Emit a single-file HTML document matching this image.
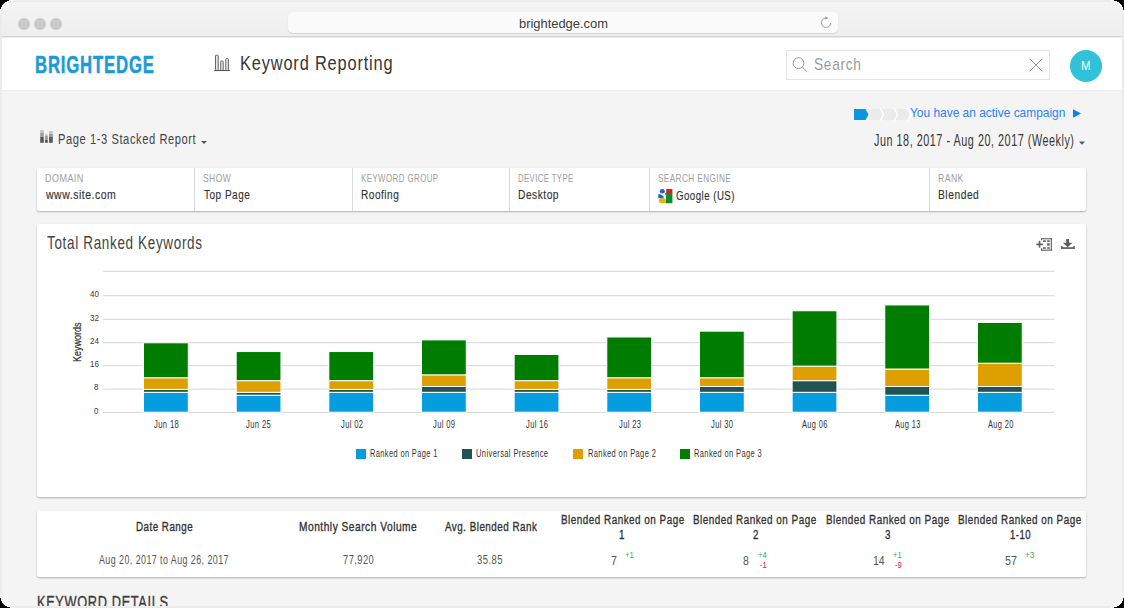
<!DOCTYPE html>
<html><head><meta charset="utf-8"><style>
html,body{margin:0;padding:0;width:1124px;height:608px;overflow:hidden;background:#000;}
body{font-family:"Liberation Sans",sans-serif;position:relative;}
.win{position:absolute;left:0;top:0;width:1124px;height:608px;background:#ebebeb;overflow:hidden;}
.t{position:absolute;white-space:nowrap;line-height:1;transform-origin:0 0;}
.a{position:absolute;}
.card{position:absolute;background:#fff;box-shadow:0 1px 2px rgba(0,0,0,0.28);border-radius:2px;}
</style></head><body>
<div class="win">
 <div class="a" style="left:2px;top:2px;width:1120px;height:34px;background:linear-gradient(#f4f4f4,#eeeeee);border-radius:10px 10px 0 0"></div>
 <div class="a" style="left:2px;top:36px;width:1120px;height:1px;background:#d5d5d5"></div>
 <div class="a" style="left:2px;top:37px;width:1120px;height:1px;background:#e9e9e9"></div>
 <div class="a" style="left:18px;top:18px;width:12px;height:12px;border-radius:50%;background:#c9c9c9"></div>
 <div class="a" style="left:34px;top:18px;width:12px;height:12px;border-radius:50%;background:#c9c9c9"></div>
 <div class="a" style="left:50px;top:18px;width:12px;height:12px;border-radius:50%;background:#c9c9c9"></div>
 <div class="a" style="left:288px;top:12px;width:550px;height:21px;border-radius:5px;background:#fbfbfb;box-shadow:0 1px 1px rgba(0,0,0,0.12)"></div>
 <div class="t" style="left:518.51px;top:16.5px;font-size:13.0px;color:#3c3c3c;transform:scaleX(0.992);">brightedge.com</div>
 <svg class="a" style="left:818px;top:15px" width="16" height="16" viewBox="0 0 16 16"><path d="M7.8 3.1 A4.6 4.6 0 1 0 12.6 8.2" fill="none" stroke="#9a9a9a" stroke-width="1"/><path d="M7.4 1.4 L10.6 3.1 L7.4 4.8 Z" fill="#9a9a9a"/></svg>
 <div class="a" style="left:2px;top:38px;width:1120px;height:52px;background:#fff"></div>
 <div class="a" style="left:2px;top:90px;width:1120px;height:516px;background:#f4f4f4"></div>
 <div class="a" style="left:2px;top:90px;width:1120px;height:1px;background:#ededed"></div>
 <div class="t" style="left:35.0px;top:52.6px;font-size:23.75px;font-weight:700;-webkit-text-stroke:0.5px #1a9bd9;color:#1a9bd9;letter-spacing:1.19px;transform:scaleX(0.703);">BRIGHTEDGE</div>
 <svg class="a" style="left:213px;top:54px" width="18" height="18" viewBox="0 0 18 18"><g fill="#e8e8e8" stroke="#666" stroke-width="1"><rect x="2.5" y="1.2" width="2.7" height="15.3" rx="0.8"/><rect x="7.7" y="7" width="2.5" height="9.5" rx="0.8"/><rect x="12.8" y="4.6" width="2.6" height="11.9" rx="0.8"/></g><path d="M1.2 16.5 H16.8" stroke="#555" stroke-width="1.1"/></svg>
 <div class="t" style="left:240.22px;top:53.0px;font-size:20.75px;color:#363636;letter-spacing:1.04px;transform:scaleX(0.7905);">Keyword Reporting</div>
 <div class="a" style="left:786px;top:50px;width:262px;height:28px;border:1px solid #e4e4e4;background:#fff"></div>
 <svg class="a" style="left:790px;top:55px" width="20" height="20" viewBox="0 0 20 20"><circle cx="8.5" cy="8.1" r="5.4" fill="none" stroke="#9a9a9a" stroke-width="1"/><path d="M12.3 12 L17 16.8" stroke="#9a9a9a" stroke-width="1"/></svg>
 <div class="t" style="left:813.59px;top:56.0px;font-size:17.0px;color:#9b9b9b;letter-spacing:0.85px;transform:scaleX(0.8089);">Search</div>
 <svg class="a" style="left:1028px;top:57px" width="16" height="16" viewBox="0 0 16 16"><path d="M1.8 1.8 L14.2 14.2 M14.2 1.8 L1.8 14.2" stroke="#979797" stroke-width="1"/></svg>
 <div class="a" style="left:1070px;top:50px;width:32px;height:32px;border-radius:50%;background:#2fc2d8"></div>
 <div class="t" style="left:1080.85px;top:60.0px;font-size:12.0px;color:#fff;transform:scaleX(0.95);">M</div>
 <svg class="a" style="left:853px;top:108px" width="60" height="13" viewBox="0 0 60 13"><rect x="12" y="1" width="44" height="11" fill="#ebebeb"/><g fill="none" stroke="#fff" stroke-width="1.3"><path d="M13.3 0 L16.8 6.5 L13.3 13"/><path d="M27 0 L30.5 6.5 L27 13"/><path d="M41 0 L44.5 6.5 L41 13"/><path d="M54.5 0 L58 6.5 L54.5 13"/></g><path d="M1 1 H12.5 L15.5 6.5 L12.5 12 H1 Z" fill="#0797dc"/></svg>
 <div class="t" style="left:909.98px;top:105.9px;font-size:13.0px;color:#2a82fb;transform:scaleX(0.9173);">You have an active campaign</div>
 <svg class="a" style="left:1072px;top:109px" width="10" height="10" viewBox="0 0 10 10"><path d="M1 0.3 L9 4.55 L1 8.8 Z" fill="#0c7ef8"/></svg>
 <div class="t" style="left:874.2px;top:132.9px;font-size:15.75px;color:#383838;letter-spacing:0.79px;transform:scaleX(0.6852);">Jun 18, 2017 - Aug 20, 2017 (Weekly)</div>
 <svg class="a" style="left:1078px;top:141px" width="8" height="5" viewBox="0 0 8 5"><path d="M1 0.5 H7 L4 3.8 Z" fill="#555"/></svg>
 <svg class="a" style="left:40px;top:130px" width="14" height="14" viewBox="0 0 14 14"><rect x="0.2" y="0" width="3.6" height="3" fill="#c4c4c4"/><rect x="0.2" y="3" width="3.6" height="4" fill="#9c9c9c"/><rect x="0.2" y="7" width="3.6" height="5.8" fill="#5a5a5a"/><rect x="5" y="4.2" width="2.8" height="1.8" fill="#c4c4c4"/><rect x="5" y="6" width="2.8" height="4" fill="#9c9c9c"/><rect x="5" y="10" width="2.8" height="2.8" fill="#5a5a5a"/><rect x="9" y="1" width="3.8" height="3" fill="#c4c4c4"/><rect x="9" y="4" width="3.8" height="3" fill="#9c9c9c"/><rect x="9" y="7" width="3.8" height="5.8" fill="#5a5a5a"/></svg>
 <div class="t" style="left:57.74px;top:131.7px;font-size:14.75px;color:#444;letter-spacing:0.74px;transform:scaleX(0.7569);">Page 1-3 Stacked Report</div>
 <svg class="a" style="left:200px;top:140px" width="8" height="5" viewBox="0 0 8 5"><path d="M1 1 H7 L4 4 Z" fill="#555"/></svg>
 <div class="card" style="left:37px;top:168px;width:1049px;height:43px"></div>
 <div class="a" style="left:194px;top:168px;width:1px;height:43px;background:#d9d9d9"></div>
 <div class="a" style="left:352px;top:168px;width:1px;height:43px;background:#d9d9d9"></div>
 <div class="a" style="left:509px;top:168px;width:1px;height:43px;background:#d9d9d9"></div>
 <div class="a" style="left:649px;top:168px;width:1px;height:43px;background:#d9d9d9"></div>
 <div class="a" style="left:929px;top:168px;width:1px;height:43px;background:#d9d9d9"></div>
 <div class="t" style="left:44.98px;top:172.8px;font-size:11.0px;color:#9e9e9e;letter-spacing:0.55px;transform:scaleX(0.82);">DOMAIN</div><div class="t" style="left:203.31px;top:172.8px;font-size:10.75px;color:#9e9e9e;letter-spacing:0.54px;transform:scaleX(0.7941);">SHOW</div><div class="t" style="left:360.86px;top:172.8px;font-size:10.75px;color:#9e9e9e;letter-spacing:0.54px;transform:scaleX(0.7388);">KEYWORD GROUP</div><div class="t" style="left:518.18px;top:172.8px;font-size:10.75px;color:#9e9e9e;letter-spacing:0.54px;transform:scaleX(0.7227);">DEVICE TYPE</div><div class="t" style="left:657.64px;top:172.8px;font-size:10.75px;color:#9e9e9e;letter-spacing:0.54px;transform:scaleX(0.7617);">SEARCH ENGINE</div><div class="t" style="left:937.79px;top:172.8px;font-size:10.75px;color:#9e9e9e;letter-spacing:0.54px;transform:scaleX(0.8067);">RANK</div>
 <div class="t" style="left:45.8px;top:189.0px;font-size:12.8px;-webkit-text-stroke:0.15px #333;color:#333;letter-spacing:0.64px;transform:scaleX(0.8188);">www.site.com</div><div class="t" style="left:204.1px;top:188.0px;font-size:13.25px;-webkit-text-stroke:0.15px #333;color:#333;letter-spacing:0.66px;transform:scaleX(0.755);">Top Page</div><div class="t" style="left:360.84px;top:188.0px;font-size:13.25px;-webkit-text-stroke:0.15px #333;color:#333;letter-spacing:0.66px;transform:scaleX(0.7604);">Roofing</div><div class="t" style="left:518.13px;top:188.0px;font-size:13.25px;-webkit-text-stroke:0.15px #333;color:#333;letter-spacing:0.66px;transform:scaleX(0.7706);">Desktop</div><div class="t" style="left:675.67px;top:188.6px;font-size:13.25px;-webkit-text-stroke:0.15px #333;color:#333;letter-spacing:0.66px;transform:scaleX(0.7291);">Google (US)</div><div class="t" style="left:937.82px;top:188.0px;font-size:13.25px;-webkit-text-stroke:0.15px #333;color:#333;letter-spacing:0.66px;transform:scaleX(0.7765);">Blended</div>
 <svg class="a" style="left:658px;top:189px" width="15" height="15" viewBox="0 0 15 15"><rect x="8.2" y="0" width="6.2" height="4.2" fill="#d9211b"/><path d="M7 4 H14.4 V14.2 H7.2 C8.4 12.2 8.4 7 7 4 Z" fill="#0b8d35"/><ellipse cx="4.3" cy="2.2" rx="2.5" ry="2.2" fill="#1c62d4"/><path d="M0.3 4.9 C2 4.9 4 5.6 5.2 7.2 L5.8 9.4 L0.3 9.3 Z" fill="#1c62d4"/><ellipse cx="4.4" cy="11.8" rx="3.7" ry="2.5" fill="#eeb300"/></svg>
 <div class="card" style="left:37px;top:224px;width:1049px;height:273px"></div>
 <div class="t" style="left:46.5px;top:233.9px;font-size:18.25px;color:#444;letter-spacing:0.91px;transform:scaleX(0.7383);">Total Ranked Keywords</div>
 <svg class="a" style="left:1035px;top:237px" width="18" height="15" viewBox="0 0 18 15"><g fill="#5c5c5c"><rect x="6" y="1.2" width="10.9" height="1.1"/><rect x="15.8" y="1.2" width="1.1" height="12.5"/><rect x="6" y="12.6" width="10.9" height="1.1"/><rect x="6" y="1.2" width="1.1" height="2"/><rect x="6" y="11.2" width="1.1" height="2.5"/><rect x="1.2" y="6.6" width="6.7" height="1.6"/><rect x="3.75" y="3.9" width="1.6" height="6.7"/></g><g fill="#727272"><rect x="8" y="3.2" width="2.9" height="1.8"/><rect x="12.1" y="3.2" width="2.7" height="1.8"/><rect x="12.1" y="6.1" width="2.7" height="2.7"/><rect x="8" y="10.1" width="2.9" height="1.8"/><rect x="12.1" y="10.1" width="2.7" height="1.8"/></g></svg>
 <svg class="a" style="left:1060px;top:238px" width="16" height="12" viewBox="0 0 16 12"><g fill="#5e5e5e"><rect x="6.2" y="1" width="2.9" height="4.5"/><path d="M2.9 4.7 H12.4 L7.65 9.3 Z"/><rect x="1.1" y="9.2" width="13.6" height="1.7"/><rect x="1.1" y="8" width="1.4" height="2.9"/><rect x="13.3" y="8" width="1.4" height="2.9"/></g></svg>
 <svg class="a" style="left:0;top:0" width="1124" height="608"><rect x="103" y="270.80" width="951.5" height="1" fill="#d8d8d8"/>
<rect x="103" y="295.20" width="951.5" height="1" fill="#d8d8d8"/>
<rect x="103" y="318.80" width="951.5" height="1" fill="#d8d8d8"/>
<rect x="103" y="342.20" width="951.5" height="1" fill="#d8d8d8"/>
<rect x="103" y="365.10" width="951.5" height="1" fill="#d8d8d8"/>
<rect x="103" y="388.60" width="951.5" height="1" fill="#d8d8d8"/>
<rect x="103" y="411.90" width="951.5" height="1" fill="#d8d8d8"/>
<rect x="143.50" y="392.31" width="44.8" height="19.89" fill="#059ddd" stroke="#fff" stroke-width="1"/>
<rect x="143.50" y="389.40" width="44.8" height="2.91" fill="#215353" stroke="#fff" stroke-width="1"/>
<rect x="143.50" y="377.75" width="44.8" height="11.65" fill="#dda000" stroke="#fff" stroke-width="1"/>
<rect x="143.50" y="342.80" width="44.8" height="34.95" fill="#007c00" stroke="#fff" stroke-width="1"/>
<rect x="236.16" y="395.22" width="44.8" height="16.98" fill="#059ddd" stroke="#fff" stroke-width="1"/>
<rect x="236.16" y="392.31" width="44.8" height="2.91" fill="#215353" stroke="#fff" stroke-width="1"/>
<rect x="236.16" y="380.66" width="44.8" height="11.65" fill="#dda000" stroke="#fff" stroke-width="1"/>
<rect x="236.16" y="351.54" width="44.8" height="29.12" fill="#007c00" stroke="#fff" stroke-width="1"/>
<rect x="328.82" y="392.31" width="44.8" height="19.89" fill="#059ddd" stroke="#fff" stroke-width="1"/>
<rect x="328.82" y="389.40" width="44.8" height="2.91" fill="#215353" stroke="#fff" stroke-width="1"/>
<rect x="328.82" y="380.66" width="44.8" height="8.74" fill="#dda000" stroke="#fff" stroke-width="1"/>
<rect x="328.82" y="351.54" width="44.8" height="29.12" fill="#007c00" stroke="#fff" stroke-width="1"/>
<rect x="421.48" y="392.31" width="44.8" height="19.89" fill="#059ddd" stroke="#fff" stroke-width="1"/>
<rect x="421.48" y="386.49" width="44.8" height="5.82" fill="#215353" stroke="#fff" stroke-width="1"/>
<rect x="421.48" y="374.84" width="44.8" height="11.65" fill="#dda000" stroke="#fff" stroke-width="1"/>
<rect x="421.48" y="339.89" width="44.8" height="34.95" fill="#007c00" stroke="#fff" stroke-width="1"/>
<rect x="514.14" y="392.31" width="44.8" height="19.89" fill="#059ddd" stroke="#fff" stroke-width="1"/>
<rect x="514.14" y="389.40" width="44.8" height="2.91" fill="#215353" stroke="#fff" stroke-width="1"/>
<rect x="514.14" y="380.66" width="44.8" height="8.74" fill="#dda000" stroke="#fff" stroke-width="1"/>
<rect x="514.14" y="354.45" width="44.8" height="26.21" fill="#007c00" stroke="#fff" stroke-width="1"/>
<rect x="606.80" y="392.31" width="44.8" height="19.89" fill="#059ddd" stroke="#fff" stroke-width="1"/>
<rect x="606.80" y="389.40" width="44.8" height="2.91" fill="#215353" stroke="#fff" stroke-width="1"/>
<rect x="606.80" y="377.75" width="44.8" height="11.65" fill="#dda000" stroke="#fff" stroke-width="1"/>
<rect x="606.80" y="336.97" width="44.8" height="40.78" fill="#007c00" stroke="#fff" stroke-width="1"/>
<rect x="699.46" y="392.31" width="44.8" height="19.89" fill="#059ddd" stroke="#fff" stroke-width="1"/>
<rect x="699.46" y="386.49" width="44.8" height="5.82" fill="#215353" stroke="#fff" stroke-width="1"/>
<rect x="699.46" y="377.75" width="44.8" height="8.74" fill="#dda000" stroke="#fff" stroke-width="1"/>
<rect x="699.46" y="331.15" width="44.8" height="46.60" fill="#007c00" stroke="#fff" stroke-width="1"/>
<rect x="792.12" y="392.31" width="44.8" height="19.89" fill="#059ddd" stroke="#fff" stroke-width="1"/>
<rect x="792.12" y="380.66" width="44.8" height="11.65" fill="#215353" stroke="#fff" stroke-width="1"/>
<rect x="792.12" y="366.10" width="44.8" height="14.56" fill="#dda000" stroke="#fff" stroke-width="1"/>
<rect x="792.12" y="310.76" width="44.8" height="55.34" fill="#007c00" stroke="#fff" stroke-width="1"/>
<rect x="884.78" y="395.22" width="44.8" height="16.98" fill="#059ddd" stroke="#fff" stroke-width="1"/>
<rect x="884.78" y="386.49" width="44.8" height="8.74" fill="#215353" stroke="#fff" stroke-width="1"/>
<rect x="884.78" y="369.01" width="44.8" height="17.48" fill="#dda000" stroke="#fff" stroke-width="1"/>
<rect x="884.78" y="304.94" width="44.8" height="64.07" fill="#007c00" stroke="#fff" stroke-width="1"/>
<rect x="977.44" y="392.31" width="44.8" height="19.89" fill="#059ddd" stroke="#fff" stroke-width="1"/>
<rect x="977.44" y="386.49" width="44.8" height="5.82" fill="#215353" stroke="#fff" stroke-width="1"/>
<rect x="977.44" y="363.19" width="44.8" height="23.30" fill="#dda000" stroke="#fff" stroke-width="1"/>
<rect x="977.44" y="322.41" width="44.8" height="40.78" fill="#007c00" stroke="#fff" stroke-width="1"/></svg>
 <div class="t" style="left:71.5px;top:362px;font-size:11px;color:#333;-webkit-text-stroke:0.2px #333;transform-origin:0 0;transform:rotate(-90deg) scaleX(0.82)">Keywords</div>
 <div class="t" style="left:90.15px;top:289.2px;font-size:9.5px;color:#383838;transform:scaleX(0.84);">40</div><div class="t" style="left:90.15px;top:312.9px;font-size:9.5px;color:#383838;transform:scaleX(0.84);">32</div><div class="t" style="left:90.15px;top:336.2px;font-size:9.5px;color:#383838;transform:scaleX(0.84);">24</div><div class="t" style="left:89.73px;top:359.3px;font-size:9.5px;color:#383838;transform:scaleX(0.84);">16</div><div class="t" style="left:94.4px;top:382.4px;font-size:9.5px;color:#383838;transform:scaleX(0.84);">8</div><div class="t" style="left:94.4px;top:405.7px;font-size:9.5px;color:#383838;transform:scaleX(0.84);">0</div>
 <div class="t" style="left:153.75px;top:418.8px;font-size:11.0px;color:#333;letter-spacing:0.55px;transform:scaleX(0.6944);">Jun 18</div><div class="t" style="left:246.41px;top:418.8px;font-size:11.0px;color:#333;letter-spacing:0.55px;transform:scaleX(0.6944);">Jun 25</div><div class="t" style="left:340.57px;top:418.8px;font-size:11.0px;color:#333;letter-spacing:0.55px;transform:scaleX(0.6875);">Jul 02</div><div class="t" style="left:433.23px;top:418.8px;font-size:11.0px;color:#333;letter-spacing:0.55px;transform:scaleX(0.6875);">Jul 09</div><div class="t" style="left:525.89px;top:418.8px;font-size:11.0px;color:#333;letter-spacing:0.55px;transform:scaleX(0.6875);">Jul 16</div><div class="t" style="left:618.55px;top:418.8px;font-size:11.0px;color:#333;letter-spacing:0.55px;transform:scaleX(0.6875);">Jul 23</div><div class="t" style="left:711.21px;top:418.8px;font-size:11.0px;color:#333;letter-spacing:0.55px;transform:scaleX(0.6875);">Jul 30</div><div class="t" style="left:802.37px;top:418.8px;font-size:11.0px;color:#333;letter-spacing:0.55px;transform:scaleX(0.6757);">Aug 06</div><div class="t" style="left:895.03px;top:418.8px;font-size:11.0px;color:#333;letter-spacing:0.55px;transform:scaleX(0.6757);">Aug 13</div><div class="t" style="left:987.69px;top:418.8px;font-size:11.0px;color:#333;letter-spacing:0.55px;transform:scaleX(0.6757);">Aug 20</div>
 <div class="a" style="left:356px;top:449px;width:10px;height:10px;background:#059ddd"></div>
 <div class="a" style="left:462px;top:449px;width:10px;height:10px;background:#215353"></div>
 <div class="a" style="left:573px;top:449px;width:10px;height:10px;background:#dda000"></div>
 <div class="a" style="left:679.5px;top:449px;width:10px;height:10px;background:#007c00"></div>
 <div class="t" style="left:369.94px;top:447.8px;font-size:11.25px;color:#333;letter-spacing:0.56px;transform:scaleX(0.663);">Ranked on Page 1</div><div class="t" style="left:476.03px;top:447.8px;font-size:11.25px;color:#333;letter-spacing:0.56px;transform:scaleX(0.6726);">Universal Presence</div><div class="t" style="left:587.73px;top:447.8px;font-size:11.25px;color:#333;letter-spacing:0.56px;transform:scaleX(0.668);">Ranked on Page 2</div><div class="t" style="left:694.23px;top:447.8px;font-size:11.25px;color:#333;letter-spacing:0.56px;transform:scaleX(0.667);">Ranked on Page 3</div>
 <div class="card" style="left:37px;top:511px;width:1049px;height:66px"></div>
 <div class="t" style="left:135.63px;top:520.8px;font-size:12.75px;-webkit-text-stroke:0.35px #333;color:#333;letter-spacing:0.64px;transform:scaleX(0.7671);">Date Range</div><div class="t" style="left:99.4px;top:553.6px;font-size:12.75px;color:#555;letter-spacing:0.64px;transform:scaleX(0.6962);">Aug 20, 2017 to Aug 26, 2017</div><div class="t" style="left:299.1px;top:520.8px;font-size:12.75px;-webkit-text-stroke:0.35px #333;color:#333;letter-spacing:0.64px;transform:scaleX(0.7986);">Monthly Search Volume</div><div class="t" style="left:342.77px;top:553.6px;font-size:12.75px;color:#555;letter-spacing:0.64px;transform:scaleX(0.7293);">77,920</div><div class="t" style="left:444.9px;top:520.8px;font-size:12.75px;-webkit-text-stroke:0.35px #333;color:#333;letter-spacing:0.64px;transform:scaleX(0.7706);">Avg. Blended Rank</div><div class="t" style="left:477.26px;top:553.6px;font-size:12.75px;color:#555;letter-spacing:0.64px;transform:scaleX(0.7424);">35.85</div>
 <div class="t" style="left:561.0px;top:513.2px;font-size:13.25px;-webkit-text-stroke:0.35px #333;color:#333;letter-spacing:0.66px;transform:scaleX(0.747);">Blended Ranked on Page</div><div class="t" style="left:693.3px;top:513.2px;font-size:13.25px;-webkit-text-stroke:0.35px #333;color:#333;letter-spacing:0.66px;transform:scaleX(0.747);">Blended Ranked on Page</div><div class="t" style="left:825.7px;top:513.2px;font-size:13.25px;-webkit-text-stroke:0.35px #333;color:#333;letter-spacing:0.66px;transform:scaleX(0.747);">Blended Ranked on Page</div><div class="t" style="left:958.0px;top:513.2px;font-size:13.25px;-webkit-text-stroke:0.35px #333;color:#333;letter-spacing:0.66px;transform:scaleX(0.747);">Blended Ranked on Page</div>
 <div class="t" style="left:619.3px;top:528.6px;font-size:12.25px;-webkit-text-stroke:0.35px #333;color:#333;transform:scaleX(0.8);">1</div><div class="t" style="left:752.5px;top:528.6px;font-size:12.25px;-webkit-text-stroke:0.35px #333;color:#333;transform:scaleX(0.8);">2</div><div class="t" style="left:885.0px;top:528.6px;font-size:12.25px;-webkit-text-stroke:0.35px #333;color:#333;transform:scaleX(0.8);">3</div><div class="t" style="left:1009.62px;top:528.6px;font-size:12.25px;-webkit-text-stroke:0.35px #333;color:#333;letter-spacing:0.61px;transform:scaleX(0.784);">1-10</div>
 <div class="t" style="left:611.0px;top:554.0px;font-size:13.25px;color:#555;transform:scaleX(0.8);">7</div><div class="t" style="left:743.1px;top:554.0px;font-size:13.25px;color:#555;transform:scaleX(0.8);">8</div><div class="t" style="left:873.01px;top:554.0px;font-size:13.25px;color:#555;transform:scaleX(0.7923);">14</div><div class="t" style="left:1005.19px;top:554.0px;font-size:13.25px;color:#555;transform:scaleX(0.8077);">57</div>
 <div class="t" style="left:624.92px;top:550.6px;font-size:9.0px;color:#2db34a;transform:scaleX(0.85);">+1</div><div class="t" style="left:757.78px;top:550.6px;font-size:9.0px;color:#2db34a;transform:scaleX(0.85);">+4</div><div class="t" style="left:759.65px;top:561.0px;font-size:9.0px;color:#d9262a;transform:scaleX(0.85);">-1</div><div class="t" style="left:892.62px;top:550.6px;font-size:9.0px;color:#2db34a;transform:scaleX(0.85);">+1</div><div class="t" style="left:895.3px;top:561.0px;font-size:9.0px;color:#d9262a;transform:scaleX(0.85);">-9</div><div class="t" style="left:1025.12px;top:550.3px;font-size:9.5px;color:#2db34a;transform:scaleX(0.85);">+3</div>
 <div class="t" style="left:36.94px;top:595.2px;font-size:16.75px;-webkit-text-stroke:0.35px #3c3c3c;color:#3c3c3c;letter-spacing:0.84px;transform:scaleX(0.7635);">KEYWORD DETAILS</div>
 <div class="a" style="left:0;top:606px;width:1124px;height:2px;background:#ebebeb"></div>
 <svg class="a" style="left:0;top:0" width="1124" height="608" shape-rendering="crispEdges">
  <path d="M0 0 H13 A13 13 0 0 0 0 13 Z" fill="#000"/>
  <path d="M13.5 0.5 A13 13 0 0 0 0.5 13.5" fill="none" stroke="#fff" stroke-width="1"/>
  <path d="M1124 0 H1111 A13 13 0 0 1 1124 13 Z" fill="#000"/>
  <path d="M1110.5 0.5 A13 13 0 0 1 1123.5 13.5" fill="none" stroke="#fff" stroke-width="1"/>
  <path d="M0 608 H13 A13 13 0 0 1 0 595 Z" fill="#000"/>
  <path d="M13.5 607.5 A13 13 0 0 1 0.5 594.5" fill="none" stroke="#fff" stroke-width="1"/>
  <path d="M1124 608 H1111 A13 13 0 0 0 1124 595 Z" fill="#000"/>
  <path d="M1110.5 607.5 A13 13 0 0 0 1123.5 594.5" fill="none" stroke="#fff" stroke-width="1"/>
 </svg>
</div>
</body></html>
